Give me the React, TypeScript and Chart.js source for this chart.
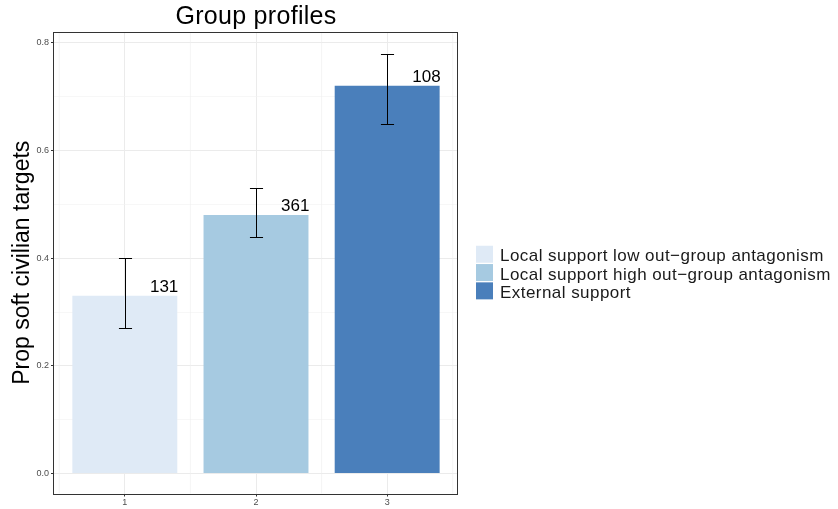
import { useEffect, useRef } from "react";
import { Chart, registerables } from "chart.js";

Chart.register(...registerables);

// Group profile data
const GROUPS = [1, 2, 3];
const GROUP_NAMES = [
  "Local support low out\u2212group antagonism",
  "Local support high out\u2212group antagonism",
  "External support",
];
const PROPORTIONS = [0.33, 0.48, 0.72];
const CI_LOW = [0.27, 0.44, 0.65];
const CI_HIGH = [0.4, 0.53, 0.78];
const GROUP_COUNTS = [131, 361, 108];
const Y_GRID = [0, 0.1, 0.2, 0.3, 0.4, 0.5, 0.6, 0.7, 0.8];
const X_MINOR_GRID = [0.5, 1.5, 2.5, 3.5];
const BAR_COLORS = ["#DFEAF6", "#A6CAE1", "#4A7FBB"];

const FONT = "'Liberation Sans', Arial, Helvetica, sans-serif";
const TITLE = "Group profiles";
const Y_TITLE = "Prop soft civilian targets";

const isMajor = (v: number) => Math.round(v * 10) % 2 === 0;

const decorations = {
  id: "decorations",
  beforeDatasetsDraw(chart: any) {
    const { ctx, chartArea, scales } = chart;
    const xs = scales.x;
    ctx.save();
    ctx.strokeStyle = "#EFEFEF";
    ctx.lineWidth = 0.6;
    X_MINOR_GRID.forEach((v) => {
      const px = xs.getPixelForValue(v);
      ctx.beginPath();
      ctx.moveTo(px, chartArea.top);
      ctx.lineTo(px, chartArea.bottom);
      ctx.stroke();
    });
    ctx.restore();
  },
  afterDatasetsDraw(chart: any) {
    const { ctx, scales } = chart;
    const xs = scales.x;
    const ys = scales.y;
    ctx.save();
    // error bars
    ctx.strokeStyle = "#000";
    ctx.lineWidth = 1;
    GROUPS.forEach((g, i) => {
      const cx = Math.round(xs.getPixelForValue(g)) + 0.5;
      const half = xs.getPixelForValue(g + 0.05) - xs.getPixelForValue(g);
      const yl = Math.round(ys.getPixelForValue(CI_LOW[i])) + 0.5;
      const yh = Math.round(ys.getPixelForValue(CI_HIGH[i])) + 0.5;
      ctx.beginPath();
      ctx.moveTo(cx, yl);
      ctx.lineTo(cx, yh);
      ctx.moveTo(cx - half, yl);
      ctx.lineTo(cx + half, yl);
      ctx.moveTo(cx - half, yh);
      ctx.lineTo(cx + half, yh);
      ctx.stroke();
    });
    // group size labels
    ctx.fillStyle = "#000";
    ctx.font = `17px ${FONT}`;
    ctx.textAlign = "right";
    ctx.textBaseline = "alphabetic";
    GROUPS.forEach((g, i) => {
      const rx = xs.getPixelForValue(g + 0.4) + 1;
      const ty = ys.getPixelForValue(PROPORTIONS[i]) - 4;
      ctx.fillText(String(GROUP_COUNTS[i]), rx, ty);
    });
    ctx.restore();
  },
  afterDraw(chart: any) {
    const { ctx, chartArea } = chart;
    ctx.save();
    // panel border
    ctx.strokeStyle = "#333333";
    ctx.lineWidth = 1;
    ctx.strokeRect(
      Math.round(chartArea.left) - 0.5,
      Math.round(chartArea.top) + 0.5,
      Math.round(chartArea.right - chartArea.left),
      Math.round(chartArea.bottom - chartArea.top)
    );
    // title
    ctx.fillStyle = "#000";
    ctx.font = `25px ${FONT}`;
    (ctx as any).letterSpacing = "0.3px";
    ctx.textAlign = "center";
    ctx.textBaseline = "alphabetic";
    ctx.fillText(TITLE, (chartArea.left + chartArea.right) / 2, 24);
    // legend
    const keyX = chartArea.right + 18;
    const keySize = 17;
    const rowH = 18.3;
    const top = (chartArea.top + chartArea.bottom) / 2 - 17;
    ctx.font = `17px ${FONT}`;
    (ctx as any).letterSpacing = "0.45px";
    ctx.textAlign = "left";
    ctx.textBaseline = "alphabetic";
    GROUP_NAMES.forEach((name, i) => {
      const y = top + i * rowH;
      ctx.fillStyle = BAR_COLORS[i];
      ctx.fillRect(keyX, y, keySize, keySize);
      ctx.fillStyle = "#1A1A1A";
      ctx.fillText(name, keyX + keySize + 7, y + 15.5);
    });
    (ctx as any).letterSpacing = "0px";
    ctx.restore();
  },
};

export default function App() {
  const canvasRef = useRef<HTMLCanvasElement | null>(null);

  useEffect(() => {
    document.body.style.margin = "0";
    const canvas = canvasRef.current;
    if (!canvas) return;
    const chart = new Chart(canvas, {
      type: "bar",
      data: {
        datasets: [
          {
            label: "Proportion",
            data: GROUPS.map((g, i) => ({ x: g, y: PROPORTIONS[i] })),
            backgroundColor: BAR_COLORS,
            borderWidth: 0,
            barPercentage: 0.8,
            categoryPercentage: 1,
          },
        ],
      },
      options: {
        animation: false,
        responsive: true,
        maintainAspectRatio: false,
        layout: { padding: { top: 32, right: 380, left: 0, bottom: 0 } },
        plugins: {
          legend: { display: false },
          tooltip: { enabled: false },
          title: { display: false },
        },
        scales: {
          x: {
            type: "linear",
            offset: false,
            min: 0.46,
            max: 3.54,
            afterBuildTicks: (s: any) => {
              s.ticks = GROUPS.map((v) => ({ value: v }));
            },
            afterFit: (s: any) => {
              s.height = 15.5;
            },
            border: { display: false },
            grid: {
              offset: false,
              color: "#EBEBEB",
              lineWidth: 1,
              tickLength: 3,
              tickColor: "#333333",
            },
            ticks: {
              autoSkip: false,
              maxRotation: 0,
              padding: 1,
              color: "#4D4D4D",
              font: { family: FONT, size: 9 },
              callback: (v: any) => String(v),
            },
          },
          y: {
            type: "linear",
            min: -0.037,
            max: 0.82,
            afterBuildTicks: (s: any) => {
              s.ticks = Y_GRID.map((v) => ({ value: v }));
            },
            afterFit: (s: any) => {
              s.width = 54;
            },
            border: { display: false },
            grid: {
              color: (c: any) => (isMajor(c.tick.value) ? "#EBEBEB" : "#F1F1F1"),
              lineWidth: (c: any) => (isMajor(c.tick.value) ? 1 : 0.6),
              tickLength: 3,
              tickColor: (c: any) => (isMajor(c.tick.value) ? "#333333" : "rgba(0,0,0,0)"),
            },
            ticks: {
              autoSkip: false,
              padding: 2,
              color: "#4D4D4D",
              font: { family: FONT, size: 9 },
              callback: (v: any) => (isMajor(Number(v)) ? Number(v).toFixed(1) : ""),
            },
            title: {
              display: true,
              text: Y_TITLE,
              color: "#000",
              font: { family: FONT, size: 23 },
              padding: { top: 9, bottom: 0 },
            },
          },
        },
      },
      plugins: [decorations],
    });
    return () => chart.destroy();
  }, []);

  return (
    <div style={{ position: "fixed", left: 0, top: 0, width: 838, height: 509 }}>
      <canvas ref={canvasRef} />
    </div>
  );
}
